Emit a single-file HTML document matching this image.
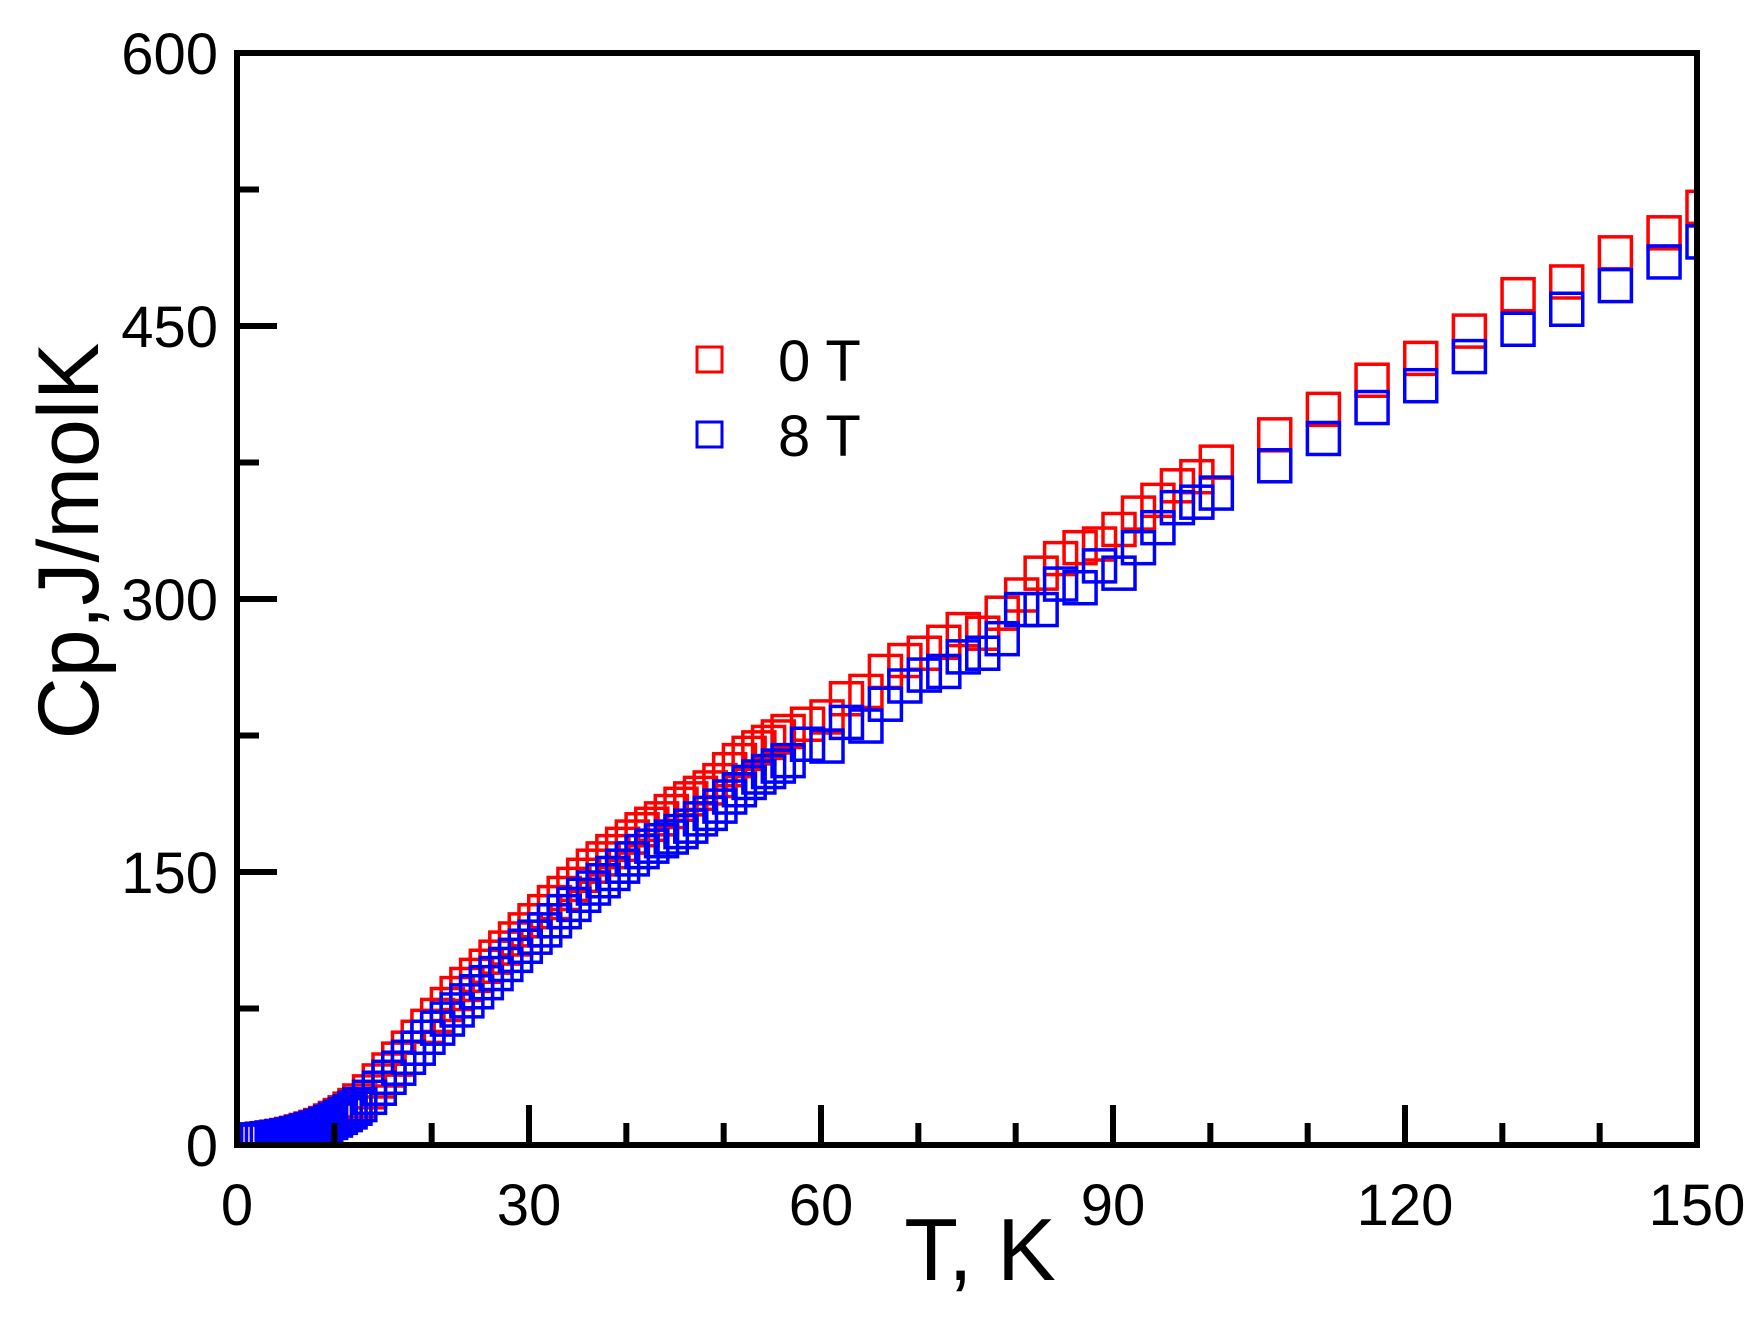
<!DOCTYPE html>
<html><head><meta charset="utf-8"><style>
html,body{margin:0;padding:0;background:#fff;}
svg{display:block;font-family:"Liberation Sans",Arial,sans-serif;}
</style></head><body>
<svg id="chart" width="1758" height="1320" viewBox="0 0 1758 1320" xmlns="http://www.w3.org/2000/svg">
<g id="marks"></g>
<g id="axes"></g>
<g>
  <rect x="697" y="347" width="25" height="25" fill="none" stroke="#ff0000" stroke-width="3"/>
  <text x="778" y="381" font-size="58">0 T</text>
  <rect x="697" y="422" width="25" height="25" fill="none" stroke="#0000ff" stroke-width="3"/>
  <text x="778" y="456" font-size="58">8 T</text>
</g>
<text transform="translate(98,541) rotate(-90)" text-anchor="middle" font-size="86">Cp,J/molK</text>
<text x="980" y="1280" text-anchor="middle" font-size="88">T, K</text>
</svg>
<script>
const tRed = [0,0.5,1,1.5,2,2.5,3,3.5,4,4.5,5,5.5,6,6.5,7,7.5,8,8.5,9,9.5,10,10.5,11,11.5,12,13,14,15,16,17,18,19,20,21,22,23,24,25,26,27,28,29,30,31,32,33,34,35,36,37,38,39,40,41,42,43,44,45,46,47,48,49,50,51,52,53,54,55,56,58,60,62,64,66,68,70,72,74,76,78,80,82,84,86,88,90,92,94,96,98,100,106,111,116,121,126,131,136,141,146,150];
const cpRed = [0,0.2,0.4,0.6,1,1.3,1.7,2.1,2.5,3,3.6,4.2,5,5.8,6.6,7.5,8.5,9.6,11,12.4,14,15.5,17.5,19.5,22,27,33,39,45,51,57,63,69,75,81,86,91,96,101,106,111,116,121,126,131,136,141,146,151,155,159,163,167,171,174,177,181,185,188,191,194,198,204,209,213,216,219,222,225,229,233,243,247,258,264,268,274,281,279,290,300,312,320,326,328,336,345,352,360,365,373,388,402,418,430,445,465,472,488,499,513];
const tBlue = [0,0.5,1,1.5,2,2.5,3,3.5,4,4.5,5,5.5,6,6.5,7,7.5,8,8.5,9,9.5,10,10.5,11,11.5,12,13,14,15,16,17,18,19,20,21,22,23,24,25,26,27,28,29,30,31,32,33,34,35,36,37,38,39,40,41,42,43,44,45,46,47,48,49,50,51,52,53,54,55,56,58,60,62,64,66,68,70,72,74,76,78,80,82,84,86,88,90,92,94,96,98,100,106,111,116,121,126,131,136,141,146,150];
const cpBlue = [0,0.2,0.4,0.6,0.9,1.2,1.6,2,2.4,2.8,3.3,3.9,4.6,5.4,6.2,7,8,9,10.2,11.5,13,14.5,16,18,20,24,29,35,40,46,51,57,62,67,72,77,82,87,92,97,102,107,112,116,121,126,130,135,139,143,147,151,155,159,162,165,167,170,173,177,180,184,189,193,197,200,203,206,209,218,217,230,228,240,250,256,258,266,268,276,292,292,306,304,316,312,326,337,348,351,356,371,386,403,415,431,446,457,470,483,494];
const xTicks = [0,30,60,90,120,150];
const yTicks = [0,150,300,450,600];

const X0=237, X1=1697, Y0=1145, Y1=53;
const xs = v => X0 + (v/150)*(X1-X0);
const ys = v => Y0 - (v/600)*(Y0-Y1);
const NS="http://www.w3.org/2000/svg";
const marks=document.getElementById('marks');
const axes=document.getElementById('axes');
const S=32;
function series(ts, vs, color, name){
  const g=document.createElementNS(NS,'g');
  
  
  for(let i=0;i<ts.length;i++){
    const r=document.createElementNS(NS,'rect');
    
    
    r.setAttribute('x', xs(ts[i])-S/2+6);
    r.setAttribute('y', ys(vs[i])-S/2-4);
    r.setAttribute('width',S); r.setAttribute('height',S);
    r.setAttribute('fill','none'); r.setAttribute('stroke',color); r.setAttribute('stroke-width','3.5');
    g.appendChild(r);
  }
  marks.appendChild(g);
}
series(tRed,cpRed,'#ff0000','series-0t');
series(tBlue,cpBlue,'#0000ff','series-8t');
function rect(x,y,w,h,fill,name){const r=document.createElementNS(NS,'rect');
  
  
  r.setAttribute('x',x);r.setAttribute('y',y);r.setAttribute('width',w);r.setAttribute('height',h);r.setAttribute('fill',fill);axes.appendChild(r);}
rect(0,Y0,1758,175,'#fff','bottom-mask');
rect(0,0,X0,1320,'#fff','left-mask');
rect(X1,0,61,1320,'#fff','right-mask');
function line(x1,y1,x2,y2,w,name){const l=document.createElementNS(NS,'line');
  
  
  l.setAttribute('x1',x1);l.setAttribute('y1',y1);l.setAttribute('x2',x2);l.setAttribute('y2',y2);
  l.setAttribute('stroke','#000');l.setAttribute('stroke-width',w);axes.appendChild(l);}
const fr=document.createElementNS(NS,'rect');


fr.setAttribute('x',X0);fr.setAttribute('y',Y1);fr.setAttribute('width',X1-X0);fr.setAttribute('height',Y0-Y1);
fr.setAttribute('fill','none');fr.setAttribute('stroke','#000');fr.setAttribute('stroke-width','6');
axes.appendChild(fr);
for(let v=0;v<=150;v+=10){const major=v%30===0;line(xs(v),Y0,xs(v),Y0-(major?40:22),6,'x-tick');}
for(let v=0;v<=600;v+=75){const major=v%150===0;line(X0,ys(v),X0+(major?40:22),ys(v),6,'y-tick');}
xTicks.forEach(v=>{const t=document.createElementNS(NS,'text');
  
  
  t.setAttribute('x',xs(v));t.setAttribute('y',1225);t.setAttribute('text-anchor','middle');t.setAttribute('font-size','58');
  t.textContent=v;axes.appendChild(t);});
yTicks.forEach(v=>{const t=document.createElementNS(NS,'text');
  
  
  t.setAttribute('x',218);t.setAttribute('y',ys(v)+21);t.setAttribute('text-anchor','end');t.setAttribute('font-size','58');
  t.textContent=v;axes.appendChild(t);});
</script>
</body></html>
